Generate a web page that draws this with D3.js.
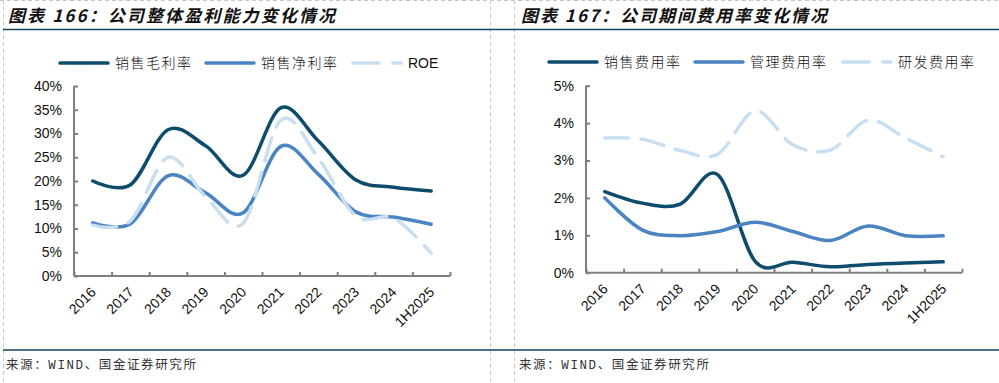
<!DOCTYPE html>
<head lang="en">
<meta charset="utf-8">
<title>盈利能力与期间费用率</title>
<style>
body { margin:0; background:#fff; }
* { font-family:"Liberation Sans","Noto Sans CJK SC",sans-serif; }
</style>
<script src="https://cdn.jsdelivr.net/npm/d3@7"></script>
</head>
<body>
<div id="chart"></div>
<script>
var years = ["2016","2017","2018","2019","2020","2021","2022","2023","2024","1H2025"];

// 图表166
var grossMargin = [20.0, 19.2, 30.8, 27.4, 21.2, 35.4, 28.4, 20.2, 18.7, 17.9];
var netMargin   = [11.2, 11.0, 21.1, 17.5, 13.3, 27.3, 21.4, 13.5, 12.4, 10.9];
var roe         = [10.7, 11.6, 25.0, 16.7, 11.1, 32.8, 24.8, 12.6, 12.2, 4.8];
var leftTicks = [0, 5, 10, 15, 20, 25, 30, 35, 40];

// 图表167
var sellRate  = [2.17, 1.86, 1.83, 2.62, 0.30, 0.28, 0.16, 0.22, 0.26, 0.29];
var adminRate = [2.00, 1.14, 0.99, 1.10, 1.35, 1.10, 0.86, 1.25, 0.99, 0.99];
var rdRate    = [3.60, 3.57, 3.27, 3.17, 4.33, 3.42, 3.28, 4.08, 3.60, 3.10];
var rightTicks = [0, 1, 2, 3, 4, 5];

var dark = "#0E4C6D", mid = "#4A84C2", light = "#C8DEF1";

var W = 999, H = 383;
var svg = d3.select("#chart").append("svg")
    .attr("width", W)
    .attr("height", H);

// frame
function dashed(x1, y1, x2, y2) {
    svg.append("line")
        .attr("x1", x1).attr("y1", y1).attr("x2", x2).attr("y2", y2)
        .style("stroke", "#c8c8c8")
        .style("stroke-width", 1)
        .style("stroke-dasharray", "4,3");
}
dashed(3.5, 0, 3.5, H);
dashed(490.5, 0, 490.5, H);
dashed(514.5, 0, 514.5, H);
dashed(0, 0.5, W, 0.5);

svg.append("line").attr("x1", 3).attr("x2", W).attr("y1", 29.5).attr("y2", 29.5)
    .style("stroke", "#16435F").style("stroke-width", 1.5);
svg.append("line").attr("x1", 3).attr("x2", W).attr("y1", 350).attr("y2", 350)
    .style("stroke", "#16435F").style("stroke-width", 1.5);

function drawPanel(opt) {
    var g = svg.append("g");

    g.append("text")
        .attr("x", opt.titleX).attr("y", 22)
        .attr("textLength", opt.titleW).attr("lengthAdjust", "spacing")
        .style("font-family", "'Noto Sans CJK SC'")
        .style("font-weight", "bold")
        .style("font-style", "italic")
        .style("font-size", "17px")
        .style("fill", "#111")
        .text(opt.title);

    g.append("text")
        .attr("x", opt.titleX - 2).attr("y", 369)
        .style("font-family", "'Liberation Mono','Noto Sans CJK SC'")
        .style("font-size", "12.5px")
        .style("letter-spacing", "1.6px")
        .style("fill", "#333")
        .text("来源：WIND、国金证券研究所");

    var x = d3.scaleBand().domain(years).range([opt.x0, opt.x1]);
    var xEdge = d3.scaleLinear().domain([0, years.length]).range([opt.x0, opt.x1]);
    var y = d3.scaleLinear().domain([0, opt.yMax]).range([opt.y0, opt.yTop]);

    // y axis
    var ya = g.append("g")
        .attr("transform", "translate(" + opt.x0 + ",0)")
        .call(d3.axisLeft(y).tickValues(opt.ticks).tickSize(-4).tickPadding(12)
              .tickFormat(function(d) { return d + "%"; }));
    ya.select(".domain").attr("d", "M0," + opt.y0 + "V" + opt.yTop);

    // x axis (ticks on category edges)
    var xa = g.append("g")
        .attr("transform", "translate(0," + opt.y0 + ")")
        .call(d3.axisBottom(xEdge).tickValues(d3.range(years.length + 1)).tickSize(-4).tickFormat(""));
    xa.select(".domain").attr("d", "M" + opt.x0 + ",0H" + opt.x1);

    [ya, xa].forEach(function(a) {
        a.selectAll(".domain, line").style("stroke", "#7f7f7f").style("stroke-width", 2);
        a.selectAll("text").style("font-size", "14px").style("fill", "#111")
            .style("font-family", "'Liberation Sans'");
    });

    g.selectAll("text.xl")
        .data(years)
        .enter()
        .append("text")
            .attr("class", "xl")
            .attr("transform", function(d) {
                return "translate(" + (x(d) + x.bandwidth() / 2 + 4) + "," + (opt.y0 + 17) + ") rotate(-45)";
            })
            .attr("text-anchor", "end")
            .style("font-size", "14px")
            .style("fill", "#111")
            .text(function(d) { return d; });

    var line = d3.line()
        .x(function(d, i) { return x(years[i]) + x.bandwidth() / 2; })
        .y(function(d) { return y(d); })
        .curve(d3.curveCatmullRom.alpha(0));

    opt.series.forEach(function(s) {
        g.append("path")
            .datum(s.values)
            .attr("d", line)
            .style("fill", "none")
            .style("stroke", s.color)
            .style("stroke-width", 3.5)
            .style("stroke-linecap", "round")
            .style("stroke-dasharray", s.dash ? "24,12" : null);

        g.append("line")
            .attr("x1", s.lx).attr("x2", s.lx + 48)
            .attr("y1", opt.legY).attr("y2", opt.legY)
            .style("stroke", s.color)
            .style("stroke-width", 3.5)
            .style("stroke-linecap", "round")
            .style("stroke-dasharray", s.dash ? "26,14" : null);

        var cjk = s.name != "ROE";
        g.append("text")
            .attr("x", s.lx + 55).attr("y", opt.legY + 5)
            .style("font-family", cjk ? "'Noto Sans CJK SC'" : "'Liberation Sans'")
            .style("font-weight", cjk ? 300 : 400)
            .style("letter-spacing", cjk ? "1.5px" : null)
            .style("font-size", "14px")
            .style("fill", "#111")
            .text(s.name);
    });
}

drawPanel({
    title: "图表 166：公司整体盈利能力变化情况", titleX: 8, titleW: 327,
    x0: 74, x1: 450, y0: 276, yTop: 86, yMax: 40, ticks: leftTicks, legY: 63,
    series: [
        { name: "销售毛利率", values: grossMargin, color: dark, lx: 60 },
        { name: "销售净利率", values: netMargin, color: mid, lx: 206 },
        { name: "ROE", values: roe, color: light, lx: 353, dash: true }
    ]
});

drawPanel({
    title: "图表 167：公司期间费用率变化情况", titleX: 521, titleW: 306,
    x0: 586, x1: 962, y0: 272.7, yTop: 85.7, yMax: 5, ticks: rightTicks, legY: 62,
    series: [
        { name: "销售费用率", values: sellRate, color: dark, lx: 549 },
        { name: "管理费用率", values: adminRate, color: mid, lx: 695 },
        { name: "研发费用率", values: rdRate, color: light, lx: 843, dash: true }
    ]
});
</script>
</body>
</html>
